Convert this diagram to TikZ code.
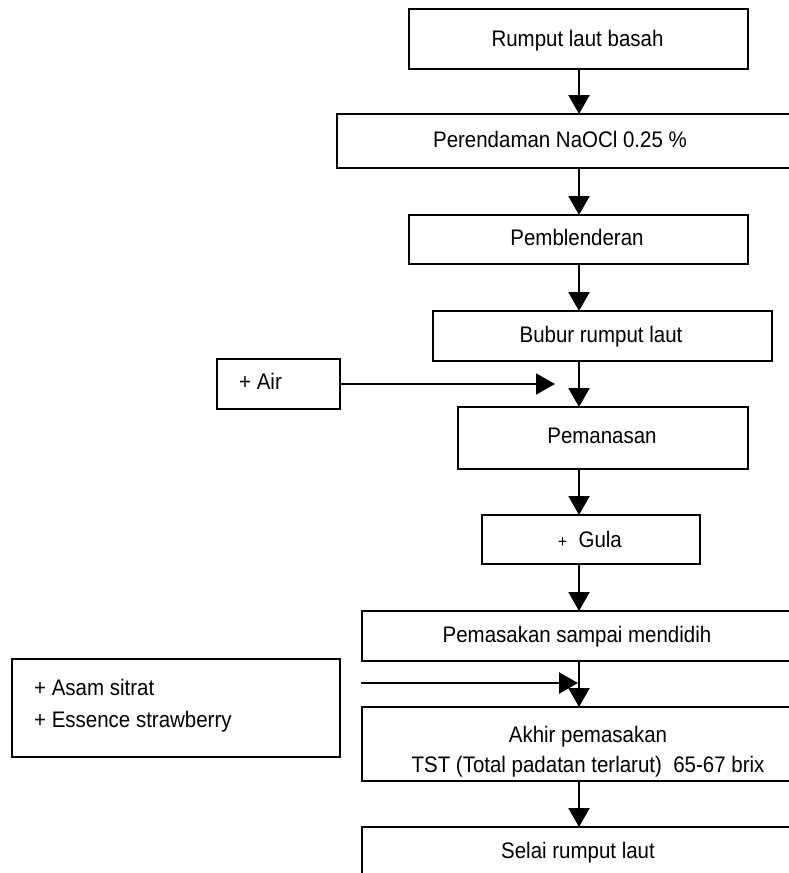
\documentclass[tikz,border=0pt]{standalone}
\usepackage{fontspec}
\setmainfont{Liberation Sans}[FakeStretch=0.91]
\usetikzlibrary{arrows.meta}
\begin{document}
\begin{tikzpicture}[x=1pt,y=-1pt,
  box/.style={draw,line width=2.5pt,inner sep=0pt,outer sep=0pt},
  lbl/.style={inner sep=0pt,anchor=base,font=\fontsize{22.5}{27}\selectfont},
  lblw/.style={lbl,anchor=base west},
  flow/.style={line width=2.2pt,-{Triangle[width=21pt,length=19pt]}}]
\useasboundingbox (0,0) rectangle (789,873);
\clip (0,0) rectangle (789,873);
\coordinate (ax) at (579,0);
% boxes
\node[box,minimum width=339pt,minimum height=60pt] (rumput) at (578.5,39) {};
\node[box,minimum width=483pt,minimum height=54pt] (perendaman) at (578.5,141) {};
\node[box,minimum width=339pt,minimum height=49pt] (blender) at (578.5,239.5) {};
\node[box,minimum width=339pt,minimum height=50pt] (bubur) at (602.5,336) {};
\node[box,minimum width=123pt,minimum height=50pt] (air) at (278.5,384) {};
\node[box,minimum width=290pt,minimum height=62pt] (panas) at (603,438) {};
\node[box,minimum width=218pt,minimum height=49pt] (gula) at (591,539.5) {};
\node[box,minimum width=458pt,minimum height=50pt] (masak) at (591,636) {};
\node[box,minimum width=328pt,minimum height=98pt] (asam) at (176,708) {};
\node[box,minimum width=458pt,minimum height=74pt] (akhir) at (591,744) {};
\node[box,minimum width=458pt,minimum height=73pt] (selai) at (591,863.5) {};
% texts
\node[lbl] (t1) at (577.5,46.7) {Rumput laut basah};
\node[lbl] (t2) at (560,147) {Perendaman NaOCl 0.25 \%};
\node[lbl] (t3) at (577,245) {Pemblenderan};
\node[lbl] (t4) at (601,342) {Bubur rumput laut};
\node[lblw] (t5) at (239,389) {+ Air};
\node[lbl] (t6) at (602,443) {Pemanasan};
\node[lbl] (t7) at (590,547) {{\fontsize{17}{17}\selectfont +}\ \ Gula};
\node[lbl] (t8) at (577,642) {Pemasakan sampai mendidih};
\node[lblw] (t9) at (34,695) {+ Asam sitrat};
\node[lblw] (t10) at (34,727) {+ Essence strawberry};
\node[lbl] (t11) at (588,742) {Akhir pemasakan};
\node[lbl] (t12) at (588,772) {TST (Total padatan terlarut)\ \ 65-67 brix};
\node[lbl] (t13) at (578,858) {Selai rumput laut};
% connectors
\draw[flow] (rumput.south -| ax) -- (perendaman.north -| ax);
\draw[flow] (perendaman.south -| ax) -- (blender.north -| ax);
\draw[flow] (blender.south -| ax) -- (bubur.north -| ax);
\draw[flow] (bubur.south -| ax) -- (panas.north -| ax);
\coordinate (airtip) at (555,384);
\draw[flow] (air.east) -- (airtip);
\draw[flow] (panas.south -| ax) -- (gula.north -| ax);
\draw[flow] (gula.south -| ax) -- (masak.north -| ax);
\draw[flow] (masak.south -| ax) -- (akhir.north -| ax);
\coordinate (asamstart) at (361,683);
\coordinate (asamtip) at (578,683);
\draw[flow] (asamstart) -- (asamtip);
\draw[flow] (akhir.south -| ax) -- (selai.north -| ax);
\end{tikzpicture}
\end{document}
